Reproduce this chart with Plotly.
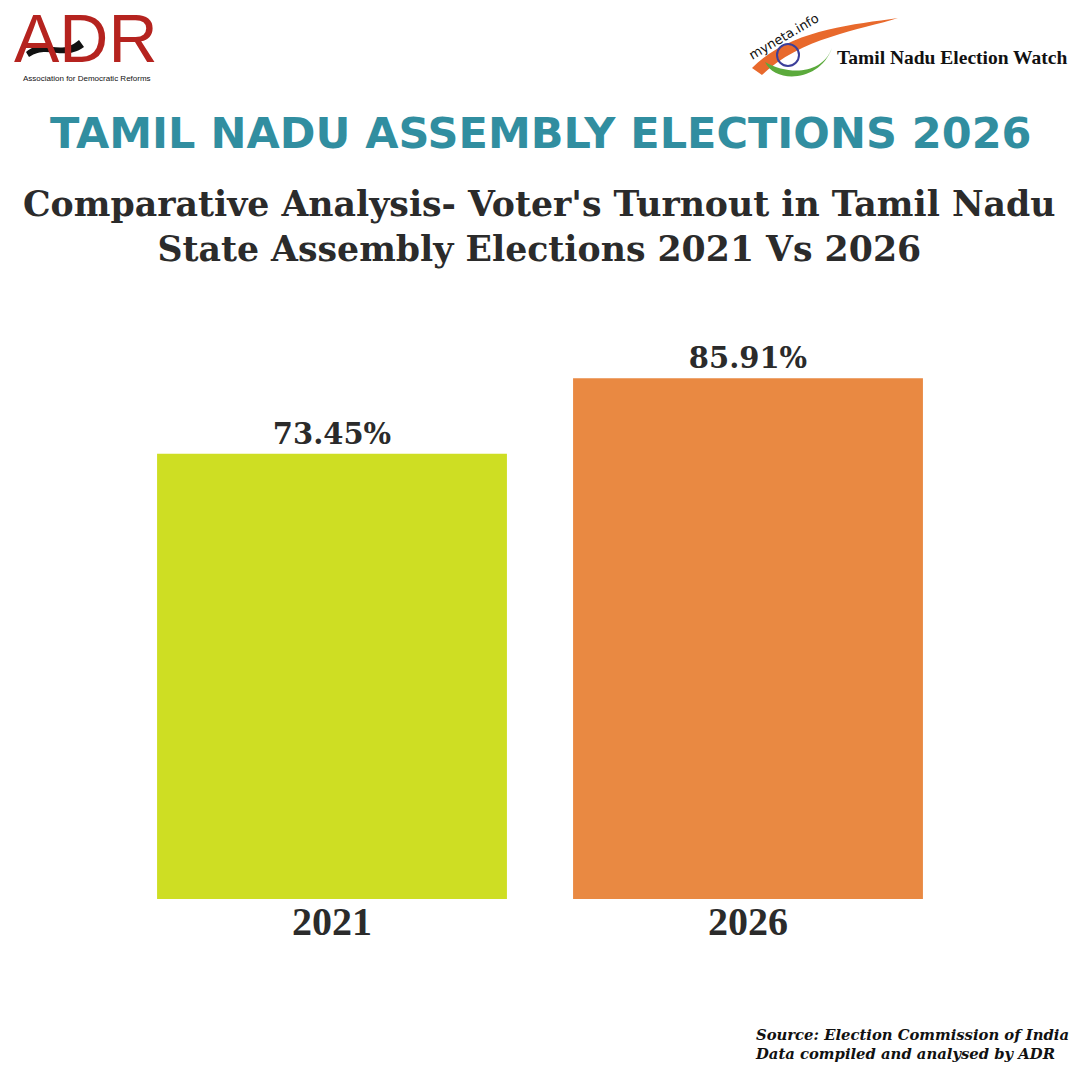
import plotly.graph_objects as go

years = ["2021", "2026"]
turnout = [73.45, 85.91]
labels = ["73.45%", "85.91%"]
bar_colors = ["#CEDE23", "#E98942"]

W, H = 1080, 1080
L, R, T, B = 124, 124, 299, 181
PW, PH = W - L - R, H - T - B

def px(x):
    return (x - L) / PW

def py(y):
    return (H - B - y) / PH

fig = go.Figure()
fig.add_trace(go.Bar(
    x=years, y=turnout,
    text=labels, textposition="outside", cliponaxis=False,
    textfont=dict(family="DejaVu Serif", size=29, color="#2B2B2B", weight="bold"),
    marker=dict(color=bar_colors, line=dict(width=0)),
    hoverinfo="skip",
))

serif = "DejaVu Serif"
ann = []
# Main title
ann.append(dict(x=px(541), y=py(133), text="<b>TAMIL NADU ASSEMBLY ELECTIONS 2026</b>",
                font=dict(family="DejaVu Sans", size=43, color="#318EA0")))
# Subtitle
ann.append(dict(x=px(539), y=py(226),
                text="<b>Comparative Analysis- Voter's Turnout in Tamil Nadu<br>State Assembly Elections 2021 Vs 2026</b>",
                font=dict(family=serif, size=34.7, color="#2B2B2B")))
# Source
ann.append(dict(x=px(1071), y=py(1044), xanchor="right",
                text="<b><i>Source: Election Commission of India<br>Data compiled and analysed by ADR</i></b>",
                align="left",
                font=dict(family=serif, size=14.8, color="#111111")))
# ADR logo
ann.append(dict(x=px(86), y=py(38), text="ADR",
                font=dict(family="Liberation Sans", size=68, color="#B5231F")))
ann.append(dict(x=px(87), y=py(79), text="Association for Democratic Reforms",
                font=dict(family="Liberation Sans", size=8, color="#111111")))
# myneta logo text
ann.append(dict(x=px(952), y=py(57), text="<b>Tamil Nadu Election Watch</b>",
                font=dict(family="Liberation Serif", size=19.5, color="#111111")))
ann.append(dict(x=px(784), y=py(37), text="myneta.info", textangle=-30,
                font=dict(family="DejaVu Sans", size=13, color="#111111")))

for a in ann:
    a.setdefault("xanchor", "center")
    a.update(xref="paper", yref="paper", yanchor="middle", showarrow=False)
    fig.add_annotation(**a)

shapes = []
# ADR swoosh
shapes.append(dict(type="path", xref="paper", yref="paper",
                   path=f"M {px(26)},{py(52)} C {px(45)},{py(36)} {px(58)},{py(58)} {px(79)},{py(40)} "
                        f"L {px(84)},{py(47)} C {px(63)},{py(62)} {px(48)},{py(44)} {px(29)},{py(57)} Z",
                   fillcolor="#111111", line=dict(width=0)))
# myneta orange swoosh
shapes.append(dict(type="path", xref="paper", yref="paper",
                   path=f"M {px(752)},{py(68)} C {px(790)},{py(30)} {px(850)},{py(25)} {px(898)},{py(18)} "
                        f"C {px(860)},{py(30)} {px(800)},{py(38)} {px(762)},{py(75)} Z",
                   fillcolor="#E8692C", line=dict(width=0)))
# myneta green swoosh
shapes.append(dict(type="path", xref="paper", yref="paper",
                   path=f"M {px(765)},{py(62)} C {px(775)},{py(84)} {px(820)},{py(82)} {px(832)},{py(48)} "
                        f"C {px(822)},{py(74)} {px(790)},{py(76)} {px(765)},{py(62)} Z",
                   fillcolor="#5BAA3C", line=dict(width=0)))
# chakra
shapes.append(dict(type="circle", xref="paper", yref="paper",
                   x0=px(777), x1=px(799), y0=py(66), y1=py(44),
                   line=dict(color="#3C3F9A", width=2), fillcolor="rgba(0,0,0,0)"))

fig.update_layout(
    width=W, height=H,
    margin=dict(l=L, r=R, t=T, b=B),
    paper_bgcolor="white", plot_bgcolor="white",
    showlegend=False,
    bargap=0.159,
    shapes=shapes,
    xaxis=dict(type="category", range=[-0.5, 1.5], showgrid=False, showline=False, zeroline=False,
               ticks="", ticklabelstandoff=-5,
               tickfont=dict(family="Liberation Serif", size=40, color="#2B2B2B", weight="bold")),
    yaxis=dict(range=[0, 99], visible=False, showgrid=False, zeroline=False),
)

fig.write_html("out.html")
